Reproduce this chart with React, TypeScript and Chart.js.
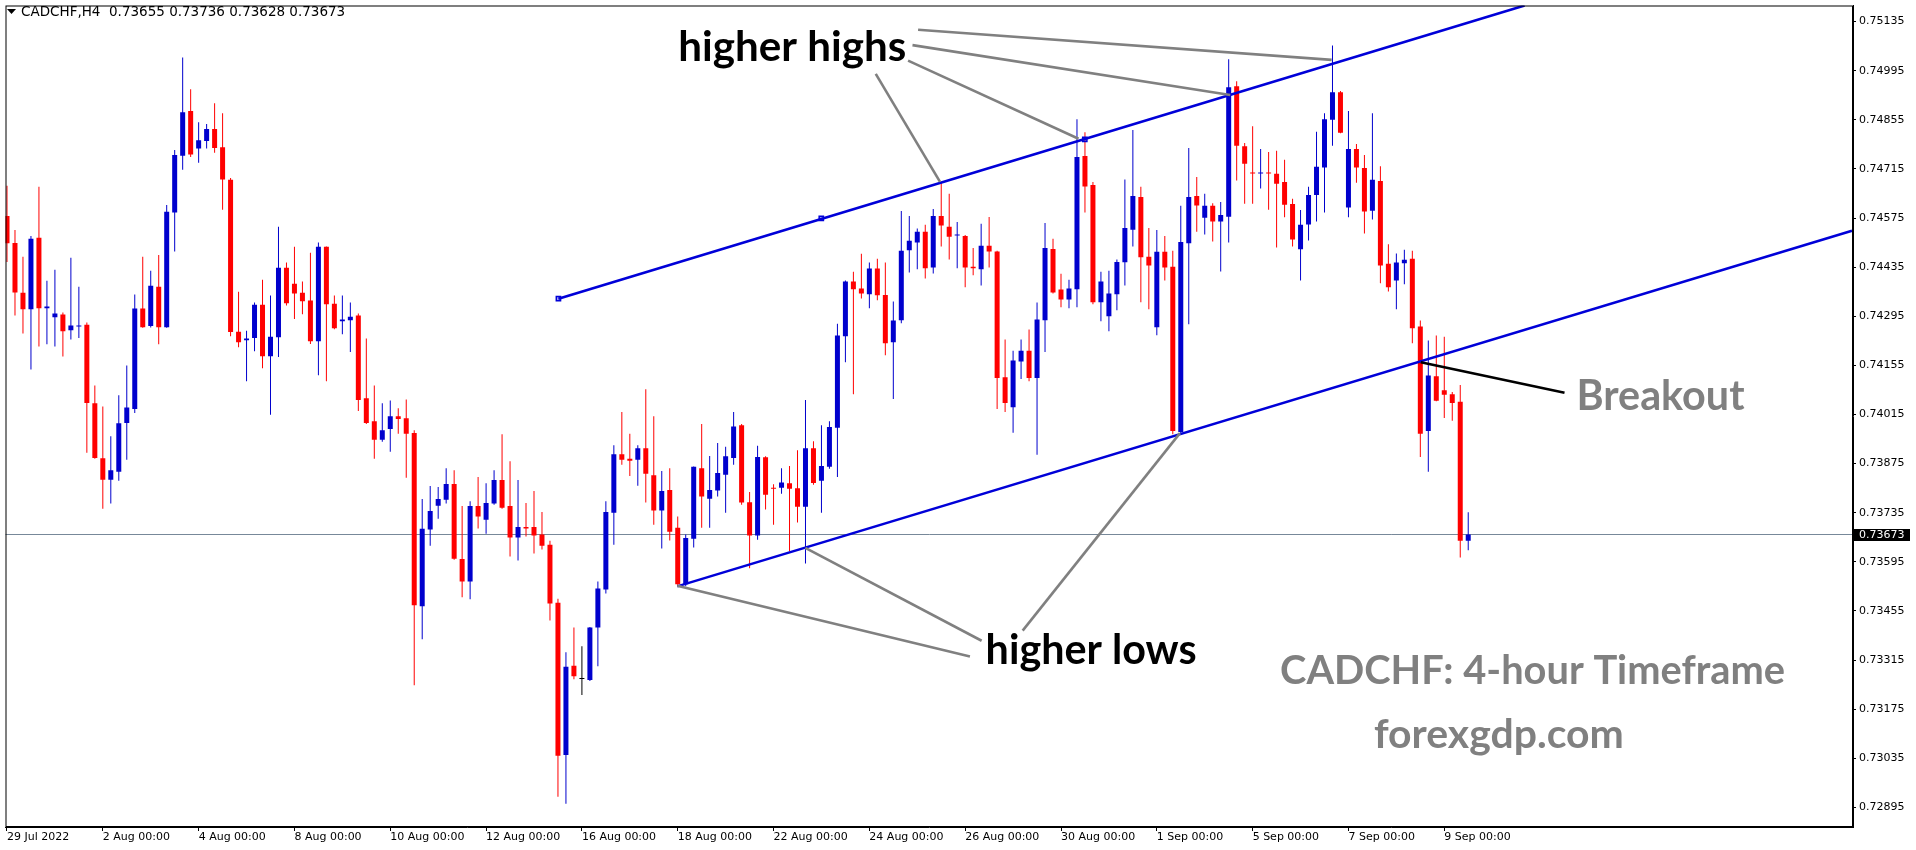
import React, { useEffect, useRef } from 'react';
import { Chart, registerables } from 'chart.js';

Chart.register(...registerables);

// ---- Candle data (CADCHF, H4) ----
const opens = [
  0.74581, 0.74504, 0.74362, 0.74315, 0.74519, 0.74318, 0.74292, 0.74300, 0.74255, 0.74266,
  0.74271, 0.74047, 0.73890, 0.73829, 0.73852, 0.73991, 0.74031, 0.74317, 0.74267, 0.74379,
  0.74264, 0.74591, 0.74753, 0.74880, 0.74773, 0.74795, 0.74829, 0.74777, 0.74684, 0.74251,
  0.74227, 0.74233, 0.74328, 0.74181, 0.74235, 0.74433, 0.74388, 0.74362, 0.74340, 0.74224,
  0.74493, 0.74331, 0.74281, 0.74284, 0.74297, 0.74061, 0.73996, 0.73943, 0.73974, 0.74010,
  0.74004, 0.73962, 0.73468, 0.73687, 0.73755, 0.73772, 0.73817, 0.73603, 0.73539, 0.73754,
  0.73715, 0.73761, 0.73828, 0.73754, 0.73664, 0.73694, 0.73694, 0.73673, 0.73644, 0.73478,
  0.73044, 0.73299, 0.73261, 0.73258, 0.73408, 0.73516, 0.73735, 0.73902, 0.73889, 0.73886,
  0.73919, 0.73842, 0.73741, 0.73800, 0.73692, 0.73531, 0.73661, 0.73862, 0.73775, 0.73798,
  0.73843, 0.73891, 0.73984, 0.73765, 0.73670, 0.73893, 0.73806, 0.73806, 0.73819, 0.73805,
  0.73752, 0.73919, 0.73826, 0.73866, 0.73977, 0.74238, 0.74394, 0.74374, 0.74358, 0.74431,
  0.74356, 0.74221, 0.74284, 0.74483, 0.74505, 0.74536, 0.74434, 0.74581, 0.74550, 0.74525,
  0.74524, 0.74436, 0.74429, 0.74496, 0.74480, 0.74121, 0.74036, 0.74166, 0.74197, 0.74119,
  0.74284, 0.74487, 0.74371, 0.74343, 0.74372, 0.74752, 0.74669, 0.74335, 0.74295, 0.74358,
  0.74449, 0.74542, 0.74635, 0.74465, 0.74264, 0.74479, 0.74436, 0.73965, 0.74503, 0.74638,
  0.74576, 0.74610, 0.74565, 0.74579, 0.74951, 0.74780, 0.74703, 0.74702, 0.74703, 0.74701,
  0.74678, 0.74615, 0.74486, 0.74557, 0.74641, 0.74719, 0.74855, 0.74934, 0.74605, 0.74772,
  0.74718, 0.74596, 0.74681, 0.74445, 0.74397, 0.74446, 0.74459, 0.74266, 0.73968, 0.74124,
  0.74084, 0.74073, 0.74051, 0.73655,
];
const highs = [
  0.74667, 0.74541, 0.74465, 0.74524, 0.74664, 0.74396, 0.74428, 0.74306, 0.74462, 0.74379,
  0.74277, 0.74098, 0.74038, 0.73953, 0.74070, 0.74155, 0.74357, 0.74465, 0.74425, 0.74470,
  0.74612, 0.74769, 0.75033, 0.74942, 0.74848, 0.74843, 0.74902, 0.74874, 0.74689, 0.74365,
  0.74254, 0.74334, 0.74399, 0.74354, 0.74550, 0.74448, 0.74493, 0.74394, 0.74476, 0.74505,
  0.74494, 0.74354, 0.74354, 0.74334, 0.74303, 0.74232, 0.74098, 0.74047, 0.74055, 0.74033,
  0.74058, 0.73970, 0.73774, 0.73811, 0.73808, 0.73862, 0.73856, 0.73754, 0.73768, 0.73837,
  0.73819, 0.73856, 0.73959, 0.73882, 0.73828, 0.73763, 0.73797, 0.73737, 0.73655, 0.73490,
  0.73337, 0.73408, 0.73354, 0.73409, 0.73539, 0.73768, 0.73927, 0.74022, 0.73960, 0.73927,
  0.74087, 0.74010, 0.73854, 0.73862, 0.73724, 0.73673, 0.73867, 0.73988, 0.73897, 0.73934,
  0.73923, 0.74022, 0.73988, 0.73794, 0.73926, 0.73896, 0.73816, 0.73862, 0.73868, 0.73913,
  0.74056, 0.73939, 0.73984, 0.73996, 0.74274, 0.74397, 0.74422, 0.74473, 0.74448, 0.74459,
  0.74448, 0.74337, 0.74595, 0.74581, 0.74545, 0.74556, 0.74601, 0.74678, 0.74644, 0.74564,
  0.74527, 0.74490, 0.74559, 0.74578, 0.74482, 0.74229, 0.74197, 0.74229, 0.74257, 0.74334,
  0.74561, 0.74516, 0.74416, 0.74399, 0.74857, 0.74820, 0.74678, 0.74422, 0.74425, 0.74457,
  0.74685, 0.74826, 0.74664, 0.74547, 0.74541, 0.74524, 0.74482, 0.74610, 0.74775, 0.74692,
  0.74644, 0.74617, 0.74621, 0.75028, 0.74965, 0.74789, 0.74837, 0.74772, 0.74763, 0.74767,
  0.74741, 0.74630, 0.74598, 0.74664, 0.74821, 0.74874, 0.75067, 0.74937, 0.74880, 0.74786,
  0.74755, 0.74874, 0.74723, 0.74500, 0.74474, 0.74485, 0.74482, 0.74283, 0.74226, 0.74240,
  0.74237, 0.74079, 0.74099, 0.73736,
];
const lows = [
  0.74450, 0.74297, 0.74246, 0.74143, 0.74209, 0.74215, 0.74209, 0.74180, 0.74229, 0.74233,
  0.73906, 0.73889, 0.73746, 0.73761, 0.73826, 0.73886, 0.74019, 0.74262, 0.74263, 0.74215,
  0.74262, 0.74480, 0.74713, 0.74749, 0.74733, 0.74773, 0.74761, 0.74599, 0.74238, 0.74207,
  0.74110, 0.74195, 0.74147, 0.74014, 0.74179, 0.74326, 0.74287, 0.74301, 0.74216, 0.74127,
  0.74110, 0.74258, 0.74244, 0.74193, 0.74025, 0.73988, 0.73889, 0.73937, 0.73909, 0.73960,
  0.73835, 0.73243, 0.73374, 0.73641, 0.73718, 0.73761, 0.73601, 0.73494, 0.73488, 0.73690,
  0.73675, 0.73758, 0.73746, 0.73610, 0.73599, 0.73667, 0.73619, 0.73630, 0.73428, 0.72925,
  0.72905, 0.73260, 0.73215, 0.73255, 0.73297, 0.73505, 0.73644, 0.73872, 0.73840, 0.73812,
  0.73764, 0.73701, 0.73633, 0.73656, 0.73528, 0.73525, 0.73636, 0.73692, 0.73692, 0.73781,
  0.73735, 0.73872, 0.73758, 0.73577, 0.73658, 0.73744, 0.73701, 0.73789, 0.73626, 0.73707,
  0.73590, 0.73815, 0.73735, 0.73860, 0.73837, 0.74164, 0.74073, 0.74346, 0.74318, 0.74341,
  0.74184, 0.74059, 0.74275, 0.74420, 0.74429, 0.74403, 0.74417, 0.74494, 0.74457, 0.74432,
  0.74378, 0.74412, 0.74383, 0.74434, 0.74031, 0.74022, 0.73963, 0.74116, 0.74110, 0.73900,
  0.74193, 0.74360, 0.74321, 0.74318, 0.74321, 0.74591, 0.74329, 0.74281, 0.74252, 0.74312,
  0.74383, 0.74494, 0.74335, 0.74315, 0.74241, 0.74397, 0.73959, 0.73962, 0.74272, 0.74536,
  0.74528, 0.74508, 0.74423, 0.74505, 0.74682, 0.74616, 0.74616, 0.74659, 0.74599, 0.74491,
  0.74577, 0.74494, 0.74397, 0.74511, 0.74565, 0.74591, 0.74781, 0.74817, 0.74577, 0.74676,
  0.74531, 0.74571, 0.74389, 0.74366, 0.74315, 0.74386, 0.74218, 0.73894, 0.73852, 0.74053,
  0.74005, 0.73997, 0.73607, 0.73628,
];
const closes = [
  0.74503, 0.74363, 0.74315, 0.74516, 0.74318, 0.74323, 0.74303, 0.74252, 0.74269, 0.74269,
  0.74048, 0.73891, 0.73829, 0.73856, 0.73990, 0.74035, 0.74317, 0.74264, 0.74382, 0.74264,
  0.74593, 0.74755, 0.74877, 0.74756, 0.74797, 0.74829, 0.74775, 0.74685, 0.74250, 0.74221,
  0.74232, 0.74328, 0.74181, 0.74237, 0.74433, 0.74332, 0.74360, 0.74338, 0.74224, 0.74493,
  0.74329, 0.74261, 0.74286, 0.74294, 0.74056, 0.73991, 0.73943, 0.73970, 0.74010, 0.74002,
  0.73960, 0.73471, 0.73689, 0.73740, 0.73774, 0.73817, 0.73604, 0.73539, 0.73754, 0.73724,
  0.73763, 0.73828, 0.73749, 0.73664, 0.73694, 0.73690, 0.73670, 0.73641, 0.73476, 0.73042,
  0.73296, 0.73269, 0.73261, 0.73408, 0.73519, 0.73737, 0.73902, 0.73886, 0.73883, 0.73919,
  0.73846, 0.73741, 0.73797, 0.73681, 0.73531, 0.73663, 0.73866, 0.73781, 0.73800, 0.73848,
  0.73896, 0.73981, 0.73764, 0.73670, 0.73894, 0.73786, 0.73803, 0.73821, 0.73803, 0.73752,
  0.73919, 0.73820, 0.73868, 0.73979, 0.74240, 0.74394, 0.74372, 0.74360, 0.74431, 0.74355,
  0.74218, 0.74283, 0.74482, 0.74510, 0.74536, 0.74432, 0.74581, 0.74554, 0.74522, 0.74527,
  0.74434, 0.74432, 0.74496, 0.74480, 0.74119, 0.74048, 0.74169, 0.74197, 0.74119, 0.74286,
  0.74490, 0.74363, 0.74343, 0.74374, 0.74749, 0.74665, 0.74335, 0.74394, 0.74360, 0.74450,
  0.74547, 0.74638, 0.74463, 0.74440, 0.74479, 0.74434, 0.73968, 0.74507, 0.74635, 0.74611,
  0.74610, 0.74565, 0.74584, 0.74948, 0.74781, 0.74730, 0.74702, 0.74704, 0.74702, 0.74673,
  0.74613, 0.74514, 0.74556, 0.74641, 0.74721, 0.74857, 0.74934, 0.74818, 0.74772, 0.74719,
  0.74594, 0.74684, 0.74440, 0.74378, 0.74448, 0.74456, 0.74261, 0.73960, 0.74126, 0.74054,
  0.74071, 0.74048, 0.73655, 0.73673,
];

// ---- Axis ticks ----
const dateTickIndex = [0, 12, 24, 36, 48, 60, 72, 84, 96, 108, 120, 132, 144, 156, 168, 180];
const dateLabels = [
  '29 Jul 2022', '2 Aug 00:00', '4 Aug 00:00', '8 Aug 00:00', '10 Aug 00:00', '12 Aug 00:00',
  '16 Aug 00:00', '18 Aug 00:00', '22 Aug 00:00', '24 Aug 00:00', '26 Aug 00:00', '30 Aug 00:00',
  '1 Sep 00:00', '5 Sep 00:00', '7 Sep 00:00', '9 Sep 00:00',
];
const priceTicks = [
  0.75135, 0.74995, 0.74855, 0.74715, 0.74575, 0.74435, 0.74295, 0.74155, 0.74015,
  0.73875, 0.73735, 0.73595, 0.73455, 0.73315, 0.73175, 0.73035, 0.72895,
];
const lastPrice = 0.73673;
const headerText = 'CADCHF,H4  0.73655 0.73736 0.73628 0.73673';

// ---- Trend channel (bar index, price) ----
const upperChannel = [{ x: 69.06, y: 0.74345 }, { x: 190.06, y: 0.75181 }];
const upperAnchors = [{ x: 69.06, y: 0.74345 }, { x: 101.98, y: 0.74574 }, { x: 134.98, y: 0.74799 }];
const lowerChannel = [{ x: 83.94, y: 0.73525 }, { x: 231.06, y: 0.74539 }];

// ---- Pointer lines (bar index, price) ----
const pointerLines = [
  { from: [114.1, 0.75112], to: [165.9, 0.75026], color: '#808080' },
  { from: [113.4, 0.75068], to: [153.2, 0.74926], color: '#808080' },
  { from: [112.85, 0.75024], to: [134.2, 0.74801], color: '#808080' },
  { from: [108.8, 0.74986], to: [116.85, 0.74678], color: '#808080' },
  { from: [83.94, 0.73527], to: [120.6, 0.73325], color: '#808080' },
  { from: [99.98, 0.73635], to: [122.06, 0.7337], color: '#808080' },
  { from: [127.2, 0.73399], to: [146.9, 0.73962], color: '#808080' },
  { from: [177.06, 0.74164], to: [195.06, 0.74077], color: '#000000' },
];

// ---- Annotation texts (left x as bar index, baseline as price, target width px) ----
const annotationTexts = [
  { text: 'higher highs', x: 84.06, y: 0.75024, width: 228, color: '#000000' },
  { text: 'higher lows', x: 122.56, y: 0.73304, width: 211, color: '#000000' },
  { text: 'Breakout', x: 196.56, y: 0.74027, width: 168, color: '#808080' },
  { text: 'CADCHF: 4-hour Timeframe', x: 159.44, y: 0.73248, width: 505, color: '#808080' },
  { text: 'forexgdp.com', x: 171.19, y: 0.73063, width: 250, color: '#808080' },
];

const BULL = '#0000cd';
const BEAR = '#ff0000';
const DOJI = '#000000';
const LINE_BLUE = '#0000d8';
const AXIS_FONT = '"DejaVu Sans", Verdana, sans-serif';
const NOTE_FONT = 'Lato, "Open Sans", sans-serif';

export default function App() {
  const ref = useRef<HTMLCanvasElement>(null);

  useEffect(() => {
    document.body.style.margin = '0';
    const canvas = ref.current;
    if (!canvas) return;

    const colors = opens.map((o, i) => (closes[i] > o ? BULL : closes[i] < o ? BEAR : DOJI));
    const bodyData = opens.map((o, i) => ({ x: i, y: [o, closes[i]] }));
    const wickData = opens.map((_, i) => ({ x: i, y: [lows[i], highs[i]] }));

    const overlay = {
      id: 'overlay',
      beforeDatasetsDraw(chart: any) {
        const { ctx, chartArea, scales } = chart;
        const py = Math.round(scales.y.getPixelForValue(lastPrice)) + 0.5;
        ctx.save();
        ctx.strokeStyle = '#778899';
        ctx.lineWidth = 1;
        ctx.beginPath();
        ctx.moveTo(chartArea.left, py);
        ctx.lineTo(chartArea.right, py);
        ctx.stroke();
        ctx.restore();
      },
      afterDatasetsDraw(chart: any) {
        const { ctx, chartArea, scales } = chart;
        const X = (v: number) => scales.x.getPixelForValue(v);
        const Y = (v: number) => scales.y.getPixelForValue(v);
        ctx.save();
        ctx.beginPath();
        ctx.rect(chartArea.left, chartArea.top, chartArea.right - chartArea.left, chartArea.bottom - chartArea.top);
        ctx.clip();
        ctx.lineWidth = 2.6;
        ctx.lineCap = 'butt';
        for (const p of pointerLines) {
          ctx.strokeStyle = p.color;
          ctx.beginPath();
          ctx.moveTo(X(p.from[0]), Y(p.from[1]));
          ctx.lineTo(X(p.to[0]), Y(p.to[1]));
          ctx.stroke();
        }
        ctx.textBaseline = 'alphabetic';
        ctx.textAlign = 'left';
        for (const t of annotationTexts) {
          ctx.font = `bold 40px ${NOTE_FONT}`;
          const w = ctx.measureText(t.text).width;
          const size = (40 * t.width) / w;
          ctx.font = `bold ${size.toFixed(2)}px ${NOTE_FONT}`;
          ctx.fillStyle = t.color;
          ctx.fillText(t.text, X(t.x), Y(t.y));
        }
        ctx.restore();
      },
      afterDraw(chart: any) {
        const { ctx, chartArea, scales } = chart;
        ctx.save();
        // frame
        ctx.strokeStyle = '#000';
        ctx.lineWidth = 1;
        ctx.strokeRect(chartArea.left + 0.5, chartArea.top + 0.5, chartArea.right - chartArea.left - 1, chartArea.bottom - chartArea.top - 1);
        // last price tag
        const py = scales.y.getPixelForValue(lastPrice);
        ctx.fillStyle = '#000';
        ctx.fillRect(chartArea.right, Math.round(py) - 5, 57, 12);
        ctx.fillStyle = '#fff';
        ctx.font = `11px ${AXIS_FONT}`;
        ctx.textBaseline = 'middle';
        ctx.textAlign = 'left';
        ctx.fillText(lastPrice.toFixed(5), chartArea.right + 6, Math.round(py) + 1);
        // header
        ctx.fillStyle = '#000';
        ctx.beginPath();
        ctx.moveTo(7, 9);
        ctx.lineTo(16, 9);
        ctx.lineTo(11.5, 14);
        ctx.closePath();
        ctx.fill();
        ctx.font = `13.5px ${AXIS_FONT}`;
        ctx.textBaseline = 'middle';
        ctx.fillText(headerText, 21, 12);
        ctx.restore();
      },
    };

    const chart = new Chart(canvas, {
      type: 'bar',
      data: {
        datasets: [
          {
            type: 'line',
            data: upperChannel,
            borderColor: LINE_BLUE,
            borderWidth: 2.6,
            pointRadius: 0,
            order: 0,
          } as any,
          {
            type: 'line',
            data: lowerChannel,
            borderColor: LINE_BLUE,
            borderWidth: 2.6,
            pointRadius: 0,
            order: 0,
          } as any,
          {
            type: 'line',
            data: upperAnchors,
            showLine: false,
            pointStyle: 'rect',
            pointRadius: 3,
            borderWidth: 1.5,
            borderColor: LINE_BLUE,
            backgroundColor: 'rgba(0,0,216,0.35)',
            order: 0,
          } as any,
          {
            type: 'bar',
            data: bodyData,
            backgroundColor: colors,
            borderWidth: 0,
            grouped: false,
            maxBarThickness: 5,
            minBarLength: 1,
            order: 1,
          } as any,
          {
            type: 'bar',
            data: wickData,
            backgroundColor: colors,
            borderWidth: 0,
            grouped: false,
            maxBarThickness: 1,
            order: 2,
          } as any,
        ],
      },
      options: {
        responsive: false,
        animation: false,
        devicePixelRatio: 1,
        layout: { padding: { left: 2, top: 3, right: 0, bottom: 0 } },
        plugins: { legend: { display: false }, tooltip: { enabled: false } },
        scales: {
          x: {
            type: 'linear',
            position: 'bottom',
            min: -0.1875,
            max: 231.1875,
            offset: false,
            grid: { display: true, offset: false, drawOnChartArea: false, drawTicks: true, tickLength: 4, tickColor: '#000', color: '#000' },
            border: { display: true, color: '#000' },
            ticks: {
              autoSkip: false,
              maxRotation: 0,
              minRotation: 0,
              align: 'start',
              padding: 0,
              color: '#000',
              font: { family: AXIS_FONT, size: 11 },
              callback: (_v: any, i: number) => dateLabels[i] ?? '',
            },
            afterBuildTicks: (s: any) => {
              s.ticks = dateTickIndex.map((v) => ({ value: v }));
            },
            afterFit: (s: any) => {
              s.height = 23;
              s.paddingLeft = 0;
              s.paddingRight = 0;
            },
          } as any,
          y: {
            type: 'linear',
            position: 'right',
            min: 0.72839,
            max: 0.75181,
            grid: { display: true, drawOnChartArea: false, drawTicks: true, tickLength: 3, tickColor: '#000', color: '#000' },
            border: { display: true, color: '#000' },
            ticks: {
              padding: 3,
              color: '#000',
              font: { family: AXIS_FONT, size: 11 },
              callback: (v: any) => Number(v).toFixed(5),
            },
            afterBuildTicks: (s: any) => {
              s.ticks = priceTicks.map((v) => ({ value: v }));
            },
            afterFit: (s: any) => {
              s.width = 63;
              s.paddingTop = 0;
              s.paddingBottom = 0;
            },
          } as any,
        },
      },
      plugins: [overlay],
    });

    let alive = true;
    if ((document as any).fonts && (document as any).fonts.load) {
      Promise.all([
        (document as any).fonts.load(`bold 40px Lato`),
        (document as any).fonts.load(`11px "DejaVu Sans"`),
      ])
        .then(() => {
          if (alive) chart.update();
        })
        .catch(() => {});
    }

    return () => {
      alive = false;
      chart.destroy();
    };
  }, []);

  return (
    <div style={{ width: 1916, height: 850, position: 'relative', background: '#fff' }}>
      <canvas ref={ref} width={1916} height={850} style={{ display: 'block' }} />
    </div>
  );
}
